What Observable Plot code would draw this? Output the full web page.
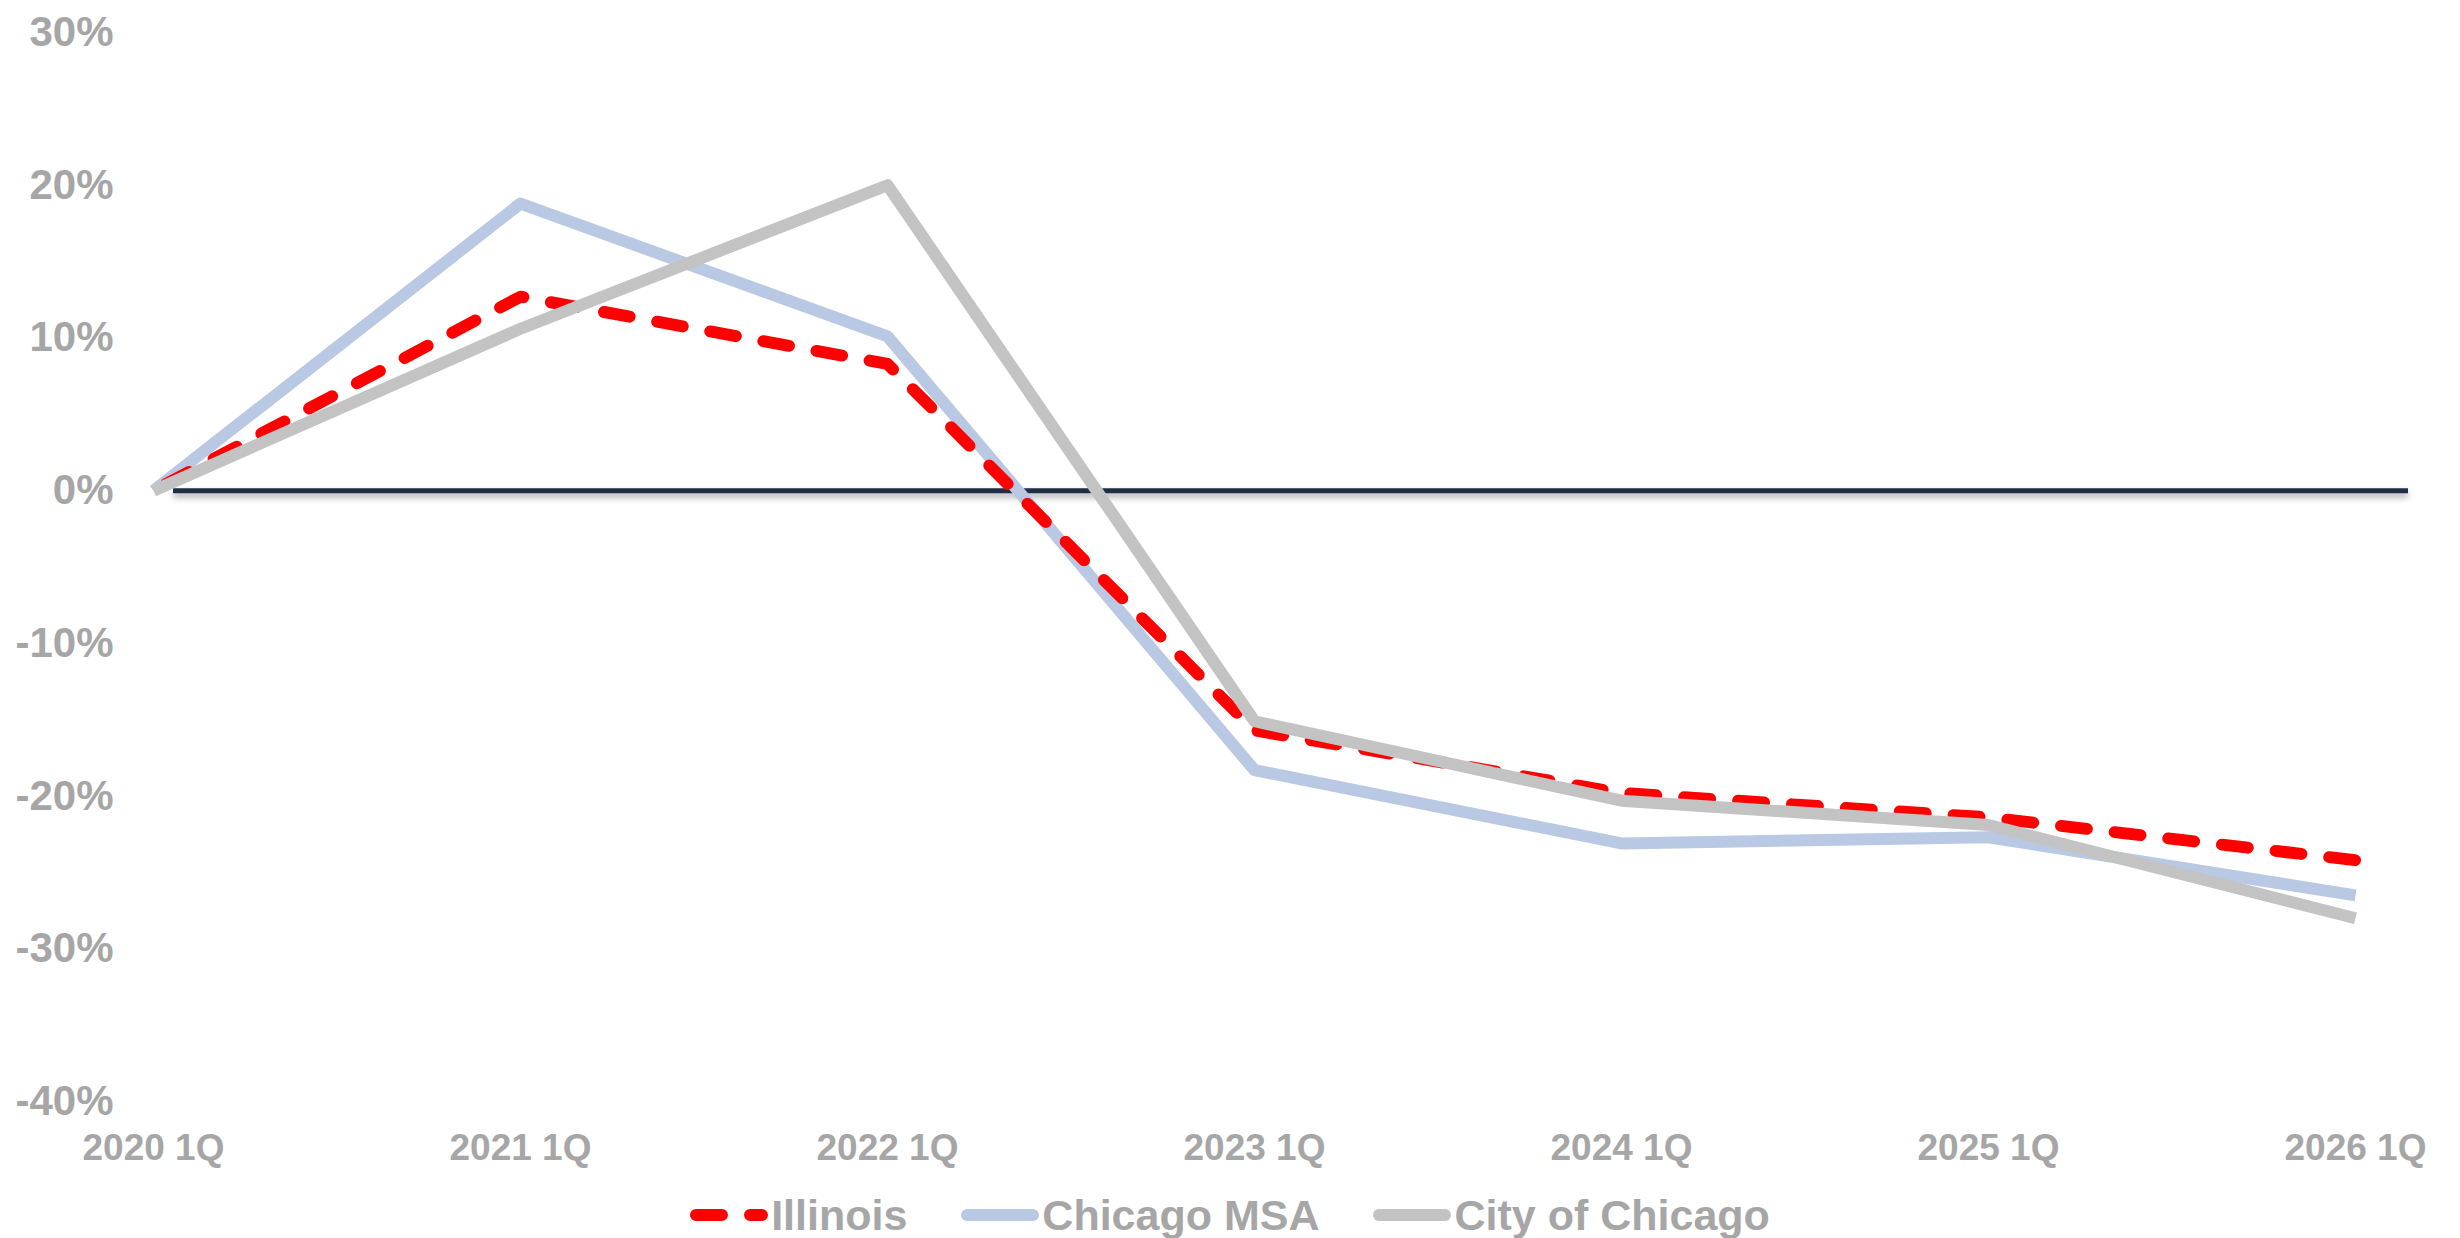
<!DOCTYPE html>
<html>
<head>
<meta charset="utf-8">
<script src="https://cdn.jsdelivr.net/npm/d3@7"></script>
<script src="https://cdn.jsdelivr.net/npm/@observablehq/plot@0.6"></script>
<style>
  html, body { margin: 0; padding: 0; background: #fff; }
  body { width: 2460px; height: 1238px; overflow: hidden; font-family: "Liberation Sans", Arial, sans-serif; }
  #legend { height: 58px; padding-top: 6px; display: flex; justify-content: center; align-items: center; gap: 54px; }
  .item { display: flex; align-items: center; gap: 3px; font-size: 43px; font-weight: bold; color: #A6A6A6; line-height: 1; }
  .item svg { display: block; }
</style>
</head>
<body>
<div id="chart"></div>
<div id="legend"></div>
<script>
// Categories and series (% change)
const quarters = ["2020 1Q", "2021 1Q", "2022 1Q", "2023 1Q", "2024 1Q", "2025 1Q", "2026 1Q"];
const illinois = [0, 12.7, 8.3, -15.7, -19.8, -21.4, -24.2];
const chicagoMSA = [0, 18.8, 10.1, -18.3, -23.1, -22.7, -26.5];
const cityOfChicago = [0, 10.6, 20.0, -15.1, -20.3, -21.9, -28.0];
const yTicks = [-40, -30, -20, -10, 0, 10, 20, 30];

const seriesNames = ["Illinois", "Chicago MSA", "City of Chicago"];
const seriesColors = ["#FF0000", "#B9C9E3", "#C3C3C3"];

const toRows = (name, vals) => vals.map((v, i) => ({series: name, quarter: quarters[i], value: v}));
const ilRows = toRows("Illinois", illinois);
const msaRows = toRows("Chicago MSA", chicagoMSA);
const cityRows = toRows("City of Chicago", cityOfChicago);

const plot = Plot.plot({
  width: 2460,
  height: 1180,
  marginTop: 32,
  marginBottom: 79,
  marginLeft: 152,
  marginRight: 104,
  style: {fontFamily: "'Liberation Sans', Arial, sans-serif", color: "#A6A6A6", background: "#fff"},
  x: {type: "point", domain: quarters, padding: 0},
  y: {domain: [-40, 30]},
  marks: [
    Plot.axisY(yTicks, {tickSize: 0, tickPadding: 39, fontSize: 42, fontWeight: "bold", tickFormat: d => d + "%", label: null}),
    Plot.axisX({tickSize: 0, tickPadding: 32, fontSize: 37, fontWeight: "bold", label: null}),
    Plot.ruleY([0], {stroke: "#1F2D45", strokeWidth: 5, insetLeft: 21, insetRight: -52,
      imageFilter: "drop-shadow(0px 4px 3px rgba(0,0,0,0.35))"}),
    Plot.line(msaRows, {x: "quarter", y: "value", stroke: seriesColors[1], strokeWidth: 12, strokeLinejoin: "round", strokeLinecap: "butt"}),
    Plot.line(ilRows, {x: "quarter", y: "value", stroke: seriesColors[0], strokeWidth: 12, strokeLinejoin: "round", strokeLinecap: "round", strokeDasharray: "26,28", strokeDashoffset: -14}),
    Plot.line(cityRows, {x: "quarter", y: "value", stroke: seriesColors[2], strokeWidth: 12, strokeLinejoin: "round", strokeLinecap: "butt"})
  ]
});
document.getElementById("chart").appendChild(plot);

// Legend
const legend = document.getElementById("legend");
seriesNames.forEach((name, i) => {
  const item = document.createElement("div");
  item.className = "item";
  const dash = i === 0 ? ' stroke-dasharray="26,28"' : '';
  item.innerHTML = `<svg width="78" height="14"><line x1="6" y1="7" x2="72" y2="7" stroke="${seriesColors[i]}" stroke-width="12" stroke-linecap="round"${dash}/></svg><span>${name}</span>`;
  legend.appendChild(item);
});
</script>
</body>
</html>
